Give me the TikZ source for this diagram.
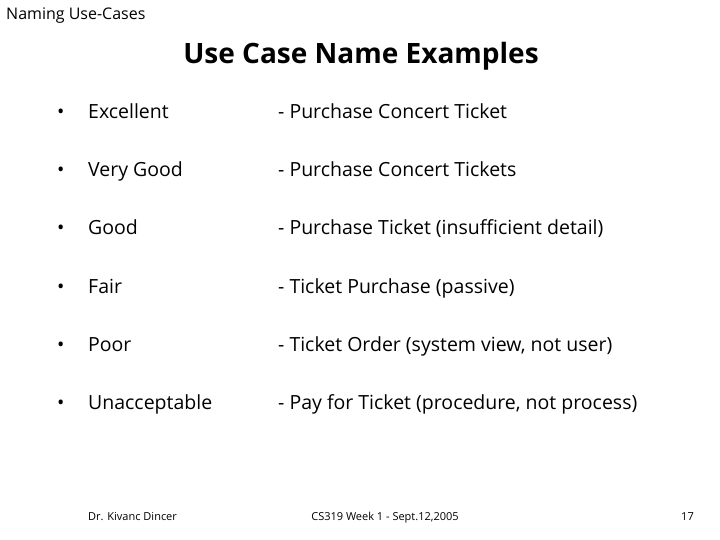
\documentclass[tikz,border=0pt]{standalone}
\usepackage{fontspec}
\setmainfont{Open Sans}
\begin{document}
\begin{tikzpicture}[x=1pt,y=-1pt,
  row/.style={anchor=base west,font=\fontsize{19.5}{22}\selectfont,inner sep=0pt},
  foot/.style={font=\fontsize{11}{13}\selectfont,inner sep=0pt}]
\useasboundingbox (0,0) rectangle (720,540);
\node[anchor=base west,inner sep=0pt,font=\fontsize{16}{19}\selectfont] (hdr) at (6,20) {Naming Use-Cases};
\node[anchor=base,font=\bfseries\fontsize{28}{32}\selectfont,inner sep=0pt] (title) at (361,64) {Use Case Name Examples};
\foreach \y/\a/\b [count=\i] in {119/Excellent/- Purchase Concert Ticket,
  177/Very Good/- Purchase Concert Tickets,
  235/Good/- Purchase Ticket (insufficient detail),
  293/Fair/- Ticket Purchase (passive),
  351/Poor/{- Ticket Order (system view, not user)},
  409/Unacceptable/{- Pay for Ticket (procedure, not process)}}{
  \node[row] (b\i) at (57,\y) {•};
  \node[row] (l\i) at (88,\y) {\a};
  \node[row] (r\i) at (278,\y) {\b};
}
\node[foot,anchor=base west] (f1) at (88,520) {Dr. Kivanc Dincer};
\node[foot,anchor=base] (f2) at (385,520) {CS319 Week 1 - Sept.12,2005};
\node[foot,anchor=base east] (f3) at (694,520) {17};
\end{tikzpicture}
\end{document}
